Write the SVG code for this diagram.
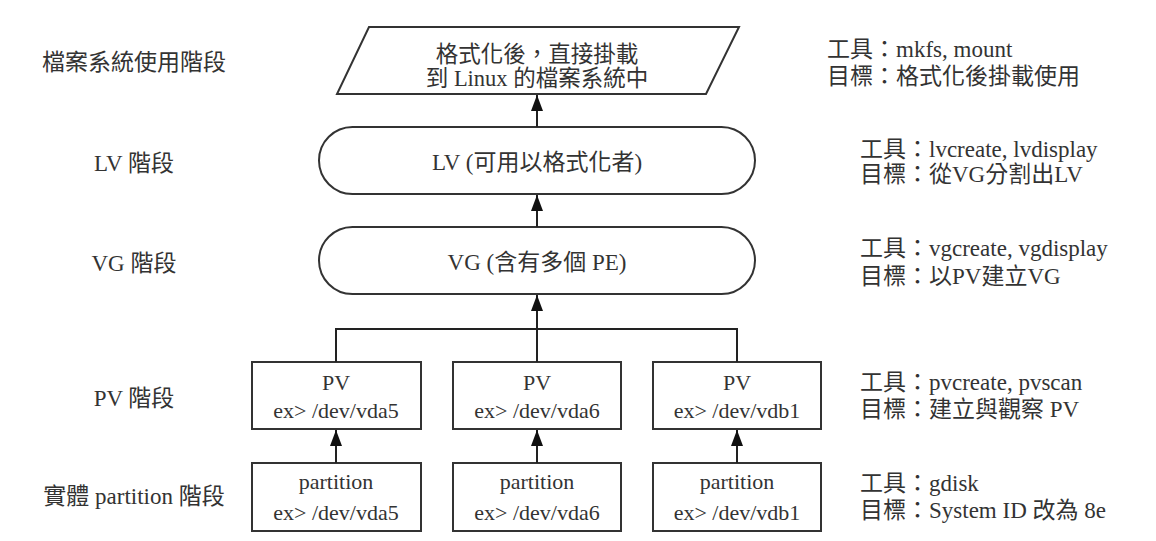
<svg xmlns="http://www.w3.org/2000/svg" width="1156" height="541" viewBox="0 0 1156 541">
<style>
text{font-family:"Liberation Serif","Noto Sans CJK TC",serif;font-size:23px;fill:#333}
.c{text-anchor:middle}
.b{font-size:22px}
.shape{fill:#fff;stroke:#333;stroke-width:2}
.ln{fill:none;stroke:#222;stroke-width:2}
</style>
<defs>
<marker id="ah" viewBox="0 0 16 12" refX="16" refY="6" markerWidth="16" markerHeight="12" markerUnits="userSpaceOnUse" orient="auto">
<path d="M0,0 L16,6 L0,12 z" fill="#111"/>
</marker>
</defs>
<rect width="1156" height="541" fill="#fff"/>
<g id="stage-labels">
<text class="c" x="134" y="70">檔案系統使用階段</text>
<text class="c" x="134" y="171">LV 階段</text>
<text class="c" x="134" y="271">VG 階段</text>
<text class="c" x="134" y="406">PV 階段</text>
<text class="c" x="134" y="504">實體 partition 階段</text>
</g>
<g id="fs">
<polygon class="shape" points="369,27 739,27 706,94 337,94"/>
<text class="c" x="537" y="62" style="font-size:22.5px">格式化後，直接掛載</text>
<text class="c" x="537" y="86" style="font-size:22.5px">到 Linux 的檔案系統中</text>
</g>
<g id="lv">
<rect class="shape" x="319" y="127" width="436" height="67" rx="33.5"/>
<text class="c" x="537" y="170">LV (可用以格式化者)</text>
</g>
<g id="vg">
<rect class="shape" x="319" y="227" width="436" height="67" rx="33.5"/>
<text class="c" x="537" y="270">VG (含有多個 PE)</text>
</g>
<g id="pv1">
<rect class="shape" x="252" y="362" width="169" height="67"/>
<text class="c b" x="336" y="390">PV</text>
<text class="c b" x="336" y="418">ex&gt; /dev/vda5</text>
</g>
<g id="pv2">
<rect class="shape" x="453" y="362" width="168" height="67"/>
<text class="c b" x="537" y="390">PV</text>
<text class="c b" x="537" y="418">ex&gt; /dev/vda6</text>
</g>
<g id="pv3">
<rect class="shape" x="653" y="362" width="168" height="67"/>
<text class="c b" x="737" y="390">PV</text>
<text class="c b" x="737" y="418">ex&gt; /dev/vdb1</text>
</g>
<g id="part1">
<rect class="shape" x="252" y="463" width="169" height="68"/>
<text class="c b" x="336" y="489">partition</text>
<text class="c b" x="336" y="520">ex&gt; /dev/vda5</text>
</g>
<g id="part2">
<rect class="shape" x="453" y="463" width="168" height="68"/>
<text class="c b" x="537" y="489">partition</text>
<text class="c b" x="537" y="520">ex&gt; /dev/vda6</text>
</g>
<g id="part3">
<rect class="shape" x="653" y="463" width="168" height="68"/>
<text class="c b" x="737" y="489">partition</text>
<text class="c b" x="737" y="520">ex&gt; /dev/vdb1</text>
</g>
<g id="connectors">
<line class="ln" x1="537" y1="127" x2="537" y2="95" marker-end="url(#ah)"/>
<line class="ln" x1="537" y1="227" x2="537" y2="195" marker-end="url(#ah)"/>
<path class="ln" d="M336,362 V329 H737 V362"/>
<line class="ln" x1="537" y1="362" x2="537" y2="295" marker-end="url(#ah)"/>
<line class="ln" x1="336" y1="463" x2="336" y2="430" marker-end="url(#ah)"/>
<line class="ln" x1="537" y1="463" x2="537" y2="430" marker-end="url(#ah)"/>
<line class="ln" x1="737" y1="463" x2="737" y2="430" marker-end="url(#ah)"/>
</g>
<g id="notes">
<text x="827" y="57">工具：mkfs, mount</text>
<text x="827" y="84">目標：格式化後掛載使用</text>
<text x="860" y="157">工具：lvcreate, lvdisplay</text>
<text x="860" y="182">目標：從VG分割出LV</text>
<text x="860" y="256">工具：vgcreate, vgdisplay</text>
<text x="860" y="284">目標：以PV建立VG</text>
<text x="860" y="390">工具：pvcreate, pvscan</text>
<text x="860" y="417">目標：建立與觀察 PV</text>
<text x="860" y="491">工具：gdisk</text>
<text x="860" y="518">目標：System ID 改為 8e</text>
</g>
</svg>
